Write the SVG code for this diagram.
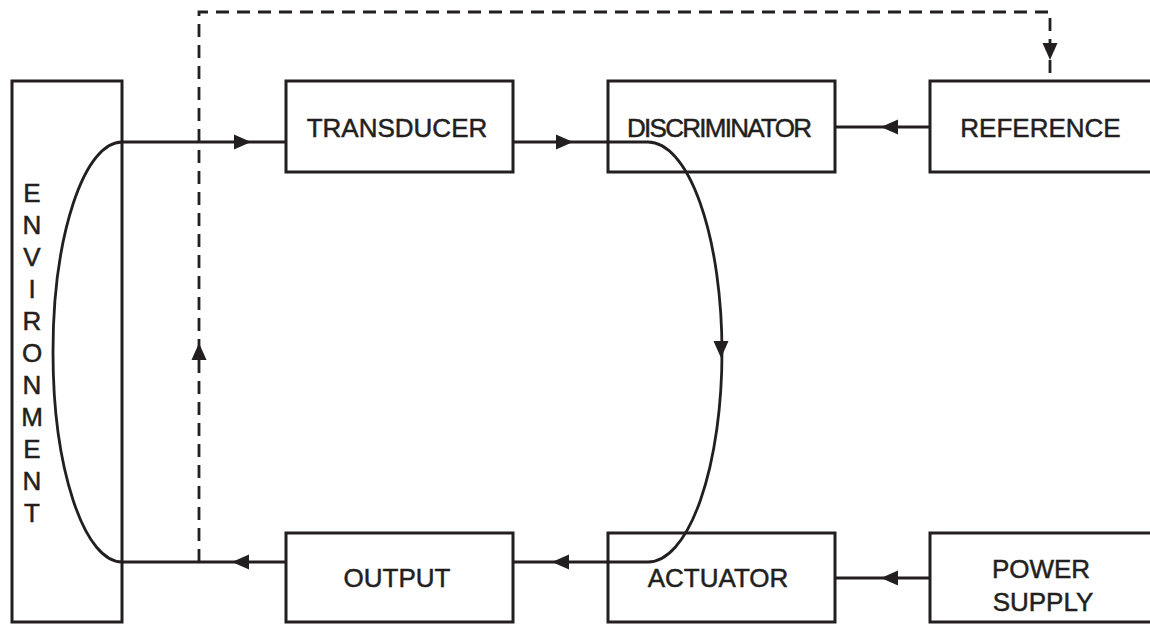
<svg xmlns="http://www.w3.org/2000/svg" width="1150" height="624" viewBox="0 0 1150 624">
<style>
.box{fill:none;stroke:#231f20;stroke-width:3}
.ln{fill:none;stroke:#231f20;stroke-width:2.8}
.dash{fill:none;stroke:#231f20;stroke-width:2.8;stroke-dasharray:13 8}
.t{font-family:"Liberation Sans",Arial,sans-serif;font-size:26px;fill:#231f20;stroke:#231f20;stroke-width:0.5}
.ah{fill:#231f20}
</style>
<defs>
<path id="ah" d="M0,0 L-17,-7.5 L-17,7.5 Z"/>
</defs>
<rect width="1150" height="624" fill="#fff"/>
<g id="environment">
<rect class="box" x="12" y="81" width="110" height="541"/>
<g class="t" text-anchor="middle">
<text x="32" y="202">E</text>
<text x="32" y="234">N</text>
<text x="32" y="266">V</text>
<text x="32" y="298">I</text>
<text x="32" y="330">R</text>
<text x="32" y="362">O</text>
<text x="32" y="394">N</text>
<text x="32" y="426">M</text>
<text x="32" y="458">E</text>
<text x="32" y="490">N</text>
<text x="32" y="522">T</text>
</g>
</g>
<g id="transducer">
<rect class="box" x="286" y="81" width="227" height="91"/>
<text class="t" x="397" y="137" text-anchor="middle">TRANSDUCER</text>
</g>
<g id="discriminator">
<rect class="box" x="608" y="81" width="227" height="91"/>
<text class="t" x="627" y="137" textLength="185" lengthAdjust="spacing">DISCRIMINATOR</text>
</g>
<g id="reference">
<rect class="box" x="930" y="81" width="240" height="91"/>
<text class="t" x="1040.5" y="137" text-anchor="middle">REFERENCE</text>
</g>
<g id="output">
<rect class="box" x="286" y="533" width="227" height="89"/>
<text class="t" x="397" y="587" text-anchor="middle">OUTPUT</text>
</g>
<g id="actuator">
<rect class="box" x="608" y="533" width="227" height="89"/>
<text class="t" x="718" y="587" text-anchor="middle">ACTUATOR</text>
</g>
<g id="power-supply">
<rect class="box" x="930" y="533" width="240" height="89"/>
<text class="t" x="1041" y="578" text-anchor="middle">POWER</text>
<text class="t" x="1043" y="611" text-anchor="middle">SUPPLY</text>
</g>
<g id="connectors">
<path class="ln" d="M122,142 A69,210 0 0 0 122,562"/>
<path class="ln" d="M122,142 H286"/>
<path class="ln" d="M513,142 H648 A74,210 0 0 1 648,562 H513"/>
<path class="ln" d="M930,127 H835"/>
<path class="ln" d="M930,578 H835"/>
<path class="ln" d="M286,562 H122"/>
<path class="dash" d="M199,562 V12 H1050 V81"/>
<g class="ah">
<use href="#ah" transform="translate(251,142)"/>
<use href="#ah" transform="translate(573,142)"/>
<use href="#ah" transform="translate(881,127) rotate(180)"/>
<use href="#ah" transform="translate(721,358) rotate(90)"/>
<use href="#ah" transform="translate(552,562) rotate(180)"/>
<use href="#ah" transform="translate(232,562) rotate(180)"/>
<use href="#ah" transform="translate(881,578) rotate(180)"/>
<use href="#ah" transform="translate(199,343) rotate(-90)"/>
<use href="#ah" transform="translate(1050,60) rotate(90)"/>
</g>
</g>
</svg>
